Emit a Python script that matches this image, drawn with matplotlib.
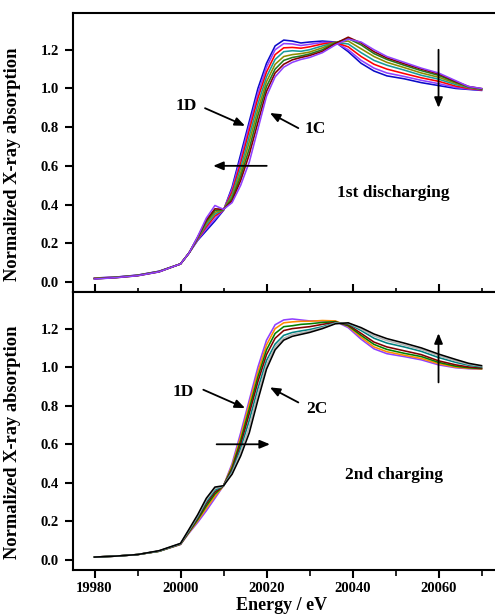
import matplotlib
matplotlib.use('Agg')
import matplotlib.pyplot as plt
from matplotlib.ticker import MultipleLocator

plt.rcParams['font.family'] = ['Liberation Serif', 'DejaVu Serif']
plt.rcParams['font.weight'] = 'bold'
plt.rcParams['axes.labelweight'] = 'bold'

# Energy grid (eV)
energy = [19980, 19985, 19990, 19995, 20000, 20002, 20004, 20006, 20008, 20010,
          20012, 20014, 20016, 20018, 20020, 20022, 20024, 20026, 20028, 20030,
          20033, 20036, 20039, 20042, 20045, 20048, 20052, 20056, 20060, 20064,
          20067, 20070]

# 1st discharging (1D -> 1C)
dis_blue = [0.020, 0.025, 0.035, 0.055, 0.093, 0.150, 0.215, 0.265, 0.315, 0.370,
            0.490, 0.660, 0.830, 1.000, 1.130, 1.220, 1.250, 1.245, 1.235, 1.240,
            1.245, 1.240, 1.190, 1.130, 1.090, 1.065, 1.050, 1.030, 1.015, 1.000,
            0.995, 0.990]
dis_violet = [0.020, 0.025, 0.035, 0.055, 0.093, 0.150, 0.218, 0.275, 0.325, 0.372,
              0.480, 0.640, 0.810, 0.975, 1.110, 1.200, 1.232, 1.230, 1.222, 1.228,
              1.238, 1.238, 1.200, 1.145, 1.105, 1.080, 1.062, 1.042, 1.025, 1.005,
              0.997, 0.992]
dis_red = [0.019, 0.024, 0.034, 0.054, 0.093, 0.150, 0.222, 0.285, 0.340, 0.372,
           0.465, 0.615, 0.785, 0.950, 1.085, 1.175, 1.210, 1.212, 1.208, 1.215,
           1.230, 1.238, 1.215, 1.165, 1.125, 1.100, 1.077, 1.055, 1.037, 1.012,
           1.000, 0.993]
dis_teal = [0.018, 0.024, 0.034, 0.054, 0.093, 0.150, 0.225, 0.295, 0.350, 0.373,
            0.450, 0.590, 0.755, 0.920, 1.060, 1.150, 1.190, 1.195, 1.192, 1.200,
            1.220, 1.238, 1.230, 1.185, 1.145, 1.120, 1.095, 1.068, 1.048, 1.020,
            1.004, 0.995]
dis_olive = [0.017, 0.023, 0.033, 0.053, 0.093, 0.150, 0.228, 0.305, 0.360, 0.374,
             0.440, 0.565, 0.725, 0.890, 1.035, 1.125, 1.165, 1.175, 1.180, 1.188,
             1.210, 1.238, 1.245, 1.205, 1.165, 1.135, 1.108, 1.080, 1.058, 1.027,
             1.006, 0.997]
dis_green = [0.016, 0.023, 0.033, 0.053, 0.093, 0.150, 0.230, 0.313, 0.370, 0.374,
             0.430, 0.545, 0.690, 0.860, 1.010, 1.100, 1.145, 1.160, 1.168, 1.178,
             1.200, 1.236, 1.258, 1.225, 1.180, 1.150, 1.120, 1.092, 1.068, 1.032,
             1.008, 0.998]
dis_brown = [0.016, 0.022, 0.032, 0.052, 0.093, 0.150, 0.232, 0.320, 0.378, 0.375,
             0.420, 0.525, 0.660, 0.825, 0.985, 1.080, 1.125, 1.148, 1.160, 1.170,
             1.192, 1.232, 1.265, 1.235, 1.190, 1.158, 1.128, 1.100, 1.075, 1.036,
             1.010, 0.999]
dis_purple = [0.015, 0.022, 0.032, 0.052, 0.093, 0.150, 0.235, 0.330, 0.395, 0.375,
              0.410, 0.500, 0.620, 0.790, 0.960, 1.060, 1.110, 1.135, 1.150, 1.160,
              1.185, 1.225, 1.255, 1.240, 1.200, 1.165, 1.135, 1.105, 1.080, 1.040,
              1.010, 1.000]

# 2nd charging (1D -> 2C)
chg_violet = [0.015, 0.020, 0.028, 0.045, 0.080, 0.140, 0.195, 0.255, 0.320, 0.385,
              0.500, 0.660, 0.830, 1.000, 1.140, 1.220, 1.245, 1.250, 1.245, 1.240,
              1.240, 1.238, 1.205, 1.145, 1.095, 1.070, 1.055, 1.038, 1.012, 0.997,
              0.992, 0.990]
chg_orange = [0.015, 0.020, 0.028, 0.045, 0.081, 0.143, 0.203, 0.268, 0.330, 0.385,
              0.490, 0.640, 0.810, 0.975, 1.115, 1.200, 1.230, 1.235, 1.238, 1.238,
              1.242, 1.240, 1.212, 1.155, 1.105, 1.080, 1.062, 1.045, 1.018, 1.000,
              0.994, 0.991]
chg_green = [0.015, 0.020, 0.028, 0.045, 0.082, 0.146, 0.210, 0.280, 0.342, 0.385,
             0.480, 0.620, 0.785, 0.950, 1.090, 1.175, 1.210, 1.215, 1.222, 1.225,
             1.232, 1.236, 1.215, 1.165, 1.118, 1.092, 1.072, 1.055, 1.025, 1.005,
             0.997, 0.993]
chg_wine = [0.015, 0.020, 0.028, 0.046, 0.083, 0.149, 0.217, 0.292, 0.352, 0.385,
            0.470, 0.600, 0.760, 0.925, 1.065, 1.150, 1.190, 1.200, 1.205, 1.210,
            1.222, 1.233, 1.220, 1.175, 1.130, 1.105, 1.085, 1.065, 1.033, 1.012,
            1.001, 0.996]
chg_teal = [0.015, 0.020, 0.028, 0.046, 0.084, 0.152, 0.223, 0.302, 0.362, 0.385,
            0.460, 0.580, 0.725, 0.890, 1.035, 1.120, 1.165, 1.180, 1.188, 1.195,
            1.210, 1.230, 1.225, 1.190, 1.150, 1.125, 1.105, 1.082, 1.050, 1.025,
            1.010, 1.001]
chg_silver = [0.015, 0.020, 0.028, 0.047, 0.085, 0.156, 0.229, 0.311, 0.370, 0.385,
              0.452, 0.560, 0.690, 0.860, 1.010, 1.105, 1.150, 1.170, 1.178, 1.187,
              1.205, 1.228, 1.228, 1.198, 1.162, 1.138, 1.115, 1.092, 1.060, 1.033,
              1.015, 1.005]
chg_black = [0.015, 0.020, 0.028, 0.048, 0.086, 0.160, 0.235, 0.320, 0.378, 0.385,
             0.445, 0.540, 0.660, 0.830, 0.990, 1.090, 1.140, 1.160, 1.170, 1.180,
             1.200, 1.225, 1.230, 1.205, 1.172, 1.148, 1.125, 1.100, 1.068, 1.040,
             1.020, 1.008]

discharge = [dis_blue, dis_violet, dis_red, dis_teal, dis_olive, dis_green, dis_brown, dis_purple]
discharge_colors = ['#0a0ac8', '#9040ff', '#ff0000', '#189a9a', '#8c8c00', '#1f7a1f', '#800000', '#9040ff']
charge = [chg_violet, chg_orange, chg_green, chg_wine, chg_teal, chg_silver, chg_black]
charge_colors = ['#9040ff', '#ff8c00', '#008000', '#800000', '#008080', '#b4b4b4', '#000000']

y_ticks = [0.0, 0.2, 0.4, 0.6, 0.8, 1.0, 1.2]
x_ticks = [19980, 20000, 20020, 20040, 20060]

fig = plt.figure(figsize=(4.95, 6.16), dpi=100)
ax1 = fig.add_axes([0.1475, 0.526, 0.8687, 0.4529])
ax2 = fig.add_axes([0.1475, 0.0747, 0.8687, 0.4513])

for vals, col in zip(discharge, discharge_colors):
    ax1.plot(energy, vals, color=col, lw=1.15)
for vals, col in zip(charge, charge_colors):
    ax2.plot(energy, vals, color=col, lw=1.15)

for ax in (ax1, ax2):
    ax.set_xlim(19975, 20075)
    ax.set_ylim(-0.052, 1.39)
    ax.set_yticks(y_ticks)
    ax.set_yticklabels(['%.1f' % t for t in y_ticks])
    ax.set_xticks(x_ticks)
    ax.xaxis.set_minor_locator(MultipleLocator(10))
    for sp in ax.spines.values():
        sp.set_linewidth(1.5)
    ax.tick_params(axis='y', which='major', direction='out', length=6, width=1.5,
                   pad=4, labelsize=10.5, right=False)
    ax.set_ylabel('Normalized X-ray absorption', fontsize=13.3, fontweight='bold')
    ax.yaxis.set_label_coords(-0.121, 0.459)

# shared boundary ticks cross the spine
ax1.tick_params(axis='x', which='major', direction='inout', length=11, width=1.5,
                labelbottom=False, top=False)
ax1.tick_params(axis='x', which='minor', direction='inout', length=6, width=1.2, top=False)
ax2.tick_params(axis='x', which='major', direction='out', length=6, width=1.5,
                pad=3, labelsize=10.5, top=False)
ax2.tick_params(axis='x', which='minor', direction='out', length=4, width=1.2, top=False)
ax2.set_xlabel('Energy / eV', fontsize=13, fontweight='bold')
ax2.xaxis.set_label_coords(0.484, -0.097)

arrow = dict(arrowstyle='-|>,head_length=0.6,head_width=0.25', color='black',
             lw=1.3, mutation_scale=10, shrinkA=0, shrinkB=0)

# top panel annotations
ax1.text(20001.4, 0.907, '1D', fontsize=12.5, ha='center', va='center')
ax1.annotate('', xy=(20015, 0.807), xytext=(20005.7, 0.898), arrowprops=arrow)
ax1.text(20031.3, 0.79, '1C', fontsize=12.5, ha='center', va='center')
ax1.annotate('', xy=(20020.8, 0.873), xytext=(20027.4, 0.795), arrowprops=arrow)
ax1.annotate('', xy=(20007.6, 0.6), xytext=(20020.05, 0.6), arrowprops=arrow)
ax1.annotate('', xy=(20060, 0.90), xytext=(20060, 1.2), arrowprops=arrow)
ax1.text(20049.4, 0.46, '1st discharging', fontsize=12.5, ha='center', va='center')

# bottom panel annotations
ax2.text(20000.6, 0.869, '1D', fontsize=12.5, ha='center', va='center')
ax2.annotate('', xy=(20015, 0.788), xytext=(20005.3, 0.883), arrowprops=arrow)
ax2.text(20031.7, 0.783, '2C', fontsize=12.5, ha='center', va='center')
ax2.annotate('', xy=(20020.8, 0.895), xytext=(20027.4, 0.817), arrowprops=arrow)
ax2.annotate('', xy=(20020.8, 0.6), xytext=(20008.4, 0.6), arrowprops=arrow)
ax2.annotate('', xy=(20060, 1.176), xytext=(20060, 0.921), arrowprops=arrow)
ax2.text(20049.65, 0.44, '2nd charging', fontsize=12.5, ha='center', va='center')

fig.savefig('out.png', dpi=100)
